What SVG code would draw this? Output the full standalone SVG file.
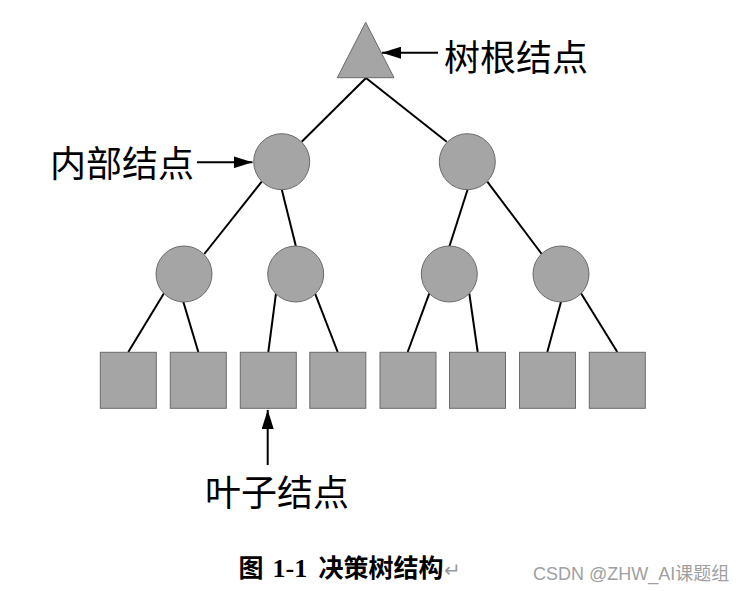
<svg xmlns="http://www.w3.org/2000/svg" width="747" height="591" viewBox="0 0 747 591">
<style>
.node{fill:#a5a5a5;stroke:#6a6a6a;stroke-width:1}
.edge{stroke:#000;stroke-width:2;fill:none}
.ptr{stroke:#000;stroke-width:2;fill:none;marker-end:url(#ah)}
.lbl{font-family:"Noto Sans CJK SC","Noto Sans",sans-serif;font-size:36px;fill:#000}
.cap{font-family:"Liberation Serif","Noto Sans CJK SC",serif;font-size:25px;font-weight:bold;fill:#000}
.wm{font-family:"Liberation Sans","Noto Sans CJK SC",sans-serif;font-size:18px;fill:#a0a0a0}
</style>
<defs>
<marker id="ah" markerUnits="userSpaceOnUse" markerWidth="19" markerHeight="12" refX="19" refY="6" orient="auto">
<path d="M0,0 L19,6 L0,12 z" fill="#000"/>
</marker>
</defs>
<rect width="747" height="591" fill="#fff"/>
<g id="connectors">
<line class="edge" x1="366" y1="78" x2="301.7" y2="141.7"/>
<line class="edge" x1="366" y1="78" x2="446.7" y2="141.7"/>
<line class="edge" x1="261.7" y1="181.7" x2="204.3" y2="254"/>
<line class="edge" x1="281.7" y1="189.3" x2="296" y2="246.7"/>
<line class="edge" x1="467.7" y1="189.3" x2="449.3" y2="246.7"/>
<line class="edge" x1="487.3" y1="181.7" x2="541.7" y2="254"/>
<line class="edge" x1="164" y1="293.3" x2="128.3" y2="352"/>
<line class="edge" x1="183.3" y1="301.7" x2="198.3" y2="352"/>
<line class="edge" x1="276" y1="293.3" x2="268.3" y2="352"/>
<line class="edge" x1="315" y1="293.3" x2="337.7" y2="352"/>
<line class="edge" x1="429.3" y1="293.3" x2="407.7" y2="352"/>
<line class="edge" x1="469.3" y1="293.3" x2="477.7" y2="352"/>
<line class="edge" x1="561" y1="301.7" x2="547.3" y2="352"/>
<line class="edge" x1="581" y1="293.3" x2="617.3" y2="352"/>
<line class="ptr" x1="438" y1="52.7" x2="382" y2="52.7"/>
<line class="ptr" x1="197" y1="162.3" x2="252.5" y2="162.3"/>
<line class="ptr" x1="267.7" y1="465" x2="267.7" y2="410"/>
</g>
<g id="root"><polygon class="node" points="365.7,22.3 394,77.7 337.3,77.7"/></g>
<g id="n1"><circle class="node" cx="281.7" cy="161.7" r="28"/></g>
<g id="n2"><circle class="node" cx="467.3" cy="161.7" r="28"/></g>
<g id="n3"><circle class="node" cx="184" cy="274" r="28"/></g>
<g id="n4"><circle class="node" cx="295.7" cy="274" r="28"/></g>
<g id="n5"><circle class="node" cx="449.3" cy="274" r="28"/></g>
<g id="n6"><circle class="node" cx="561" cy="274" r="28"/></g>
<g id="leaf1"><rect class="node" x="100.3" y="352.3" width="56" height="56"/></g>
<g id="leaf2"><rect class="node" x="170.3" y="352.3" width="56" height="56"/></g>
<g id="leaf3"><rect class="node" x="240.3" y="352.3" width="56" height="56"/></g>
<g id="leaf4"><rect class="node" x="309.8" y="352.3" width="56" height="56"/></g>
<g id="leaf5"><rect class="node" x="380" y="352.3" width="56" height="56"/></g>
<g id="leaf6"><rect class="node" x="449.5" y="352.3" width="56" height="56"/></g>
<g id="leaf7"><rect class="node" x="519.5" y="352.3" width="56" height="56"/></g>
<g id="leaf8"><rect class="node" x="589.3" y="352.3" width="56" height="56"/></g>
<g id="labels">
<text class="lbl" x="444" y="70.5">树根结点</text>
<text class="lbl" x="50" y="177">内部结点</text>
<text class="lbl" x="205" y="505.5">叶子结点</text>
</g>
<g id="caption">
<text class="cap" y="577"><tspan x="238.5">图</tspan><tspan x="272.5" font-size="26">1-1</tspan><tspan x="318.5">决策树结构</tspan><tspan x="444" font-weight="normal" font-size="20" fill="#999">↵</tspan></text>
<text class="wm" x="533" y="580">CSDN @ZHW_AI课题组</text>
</g>
</svg>
